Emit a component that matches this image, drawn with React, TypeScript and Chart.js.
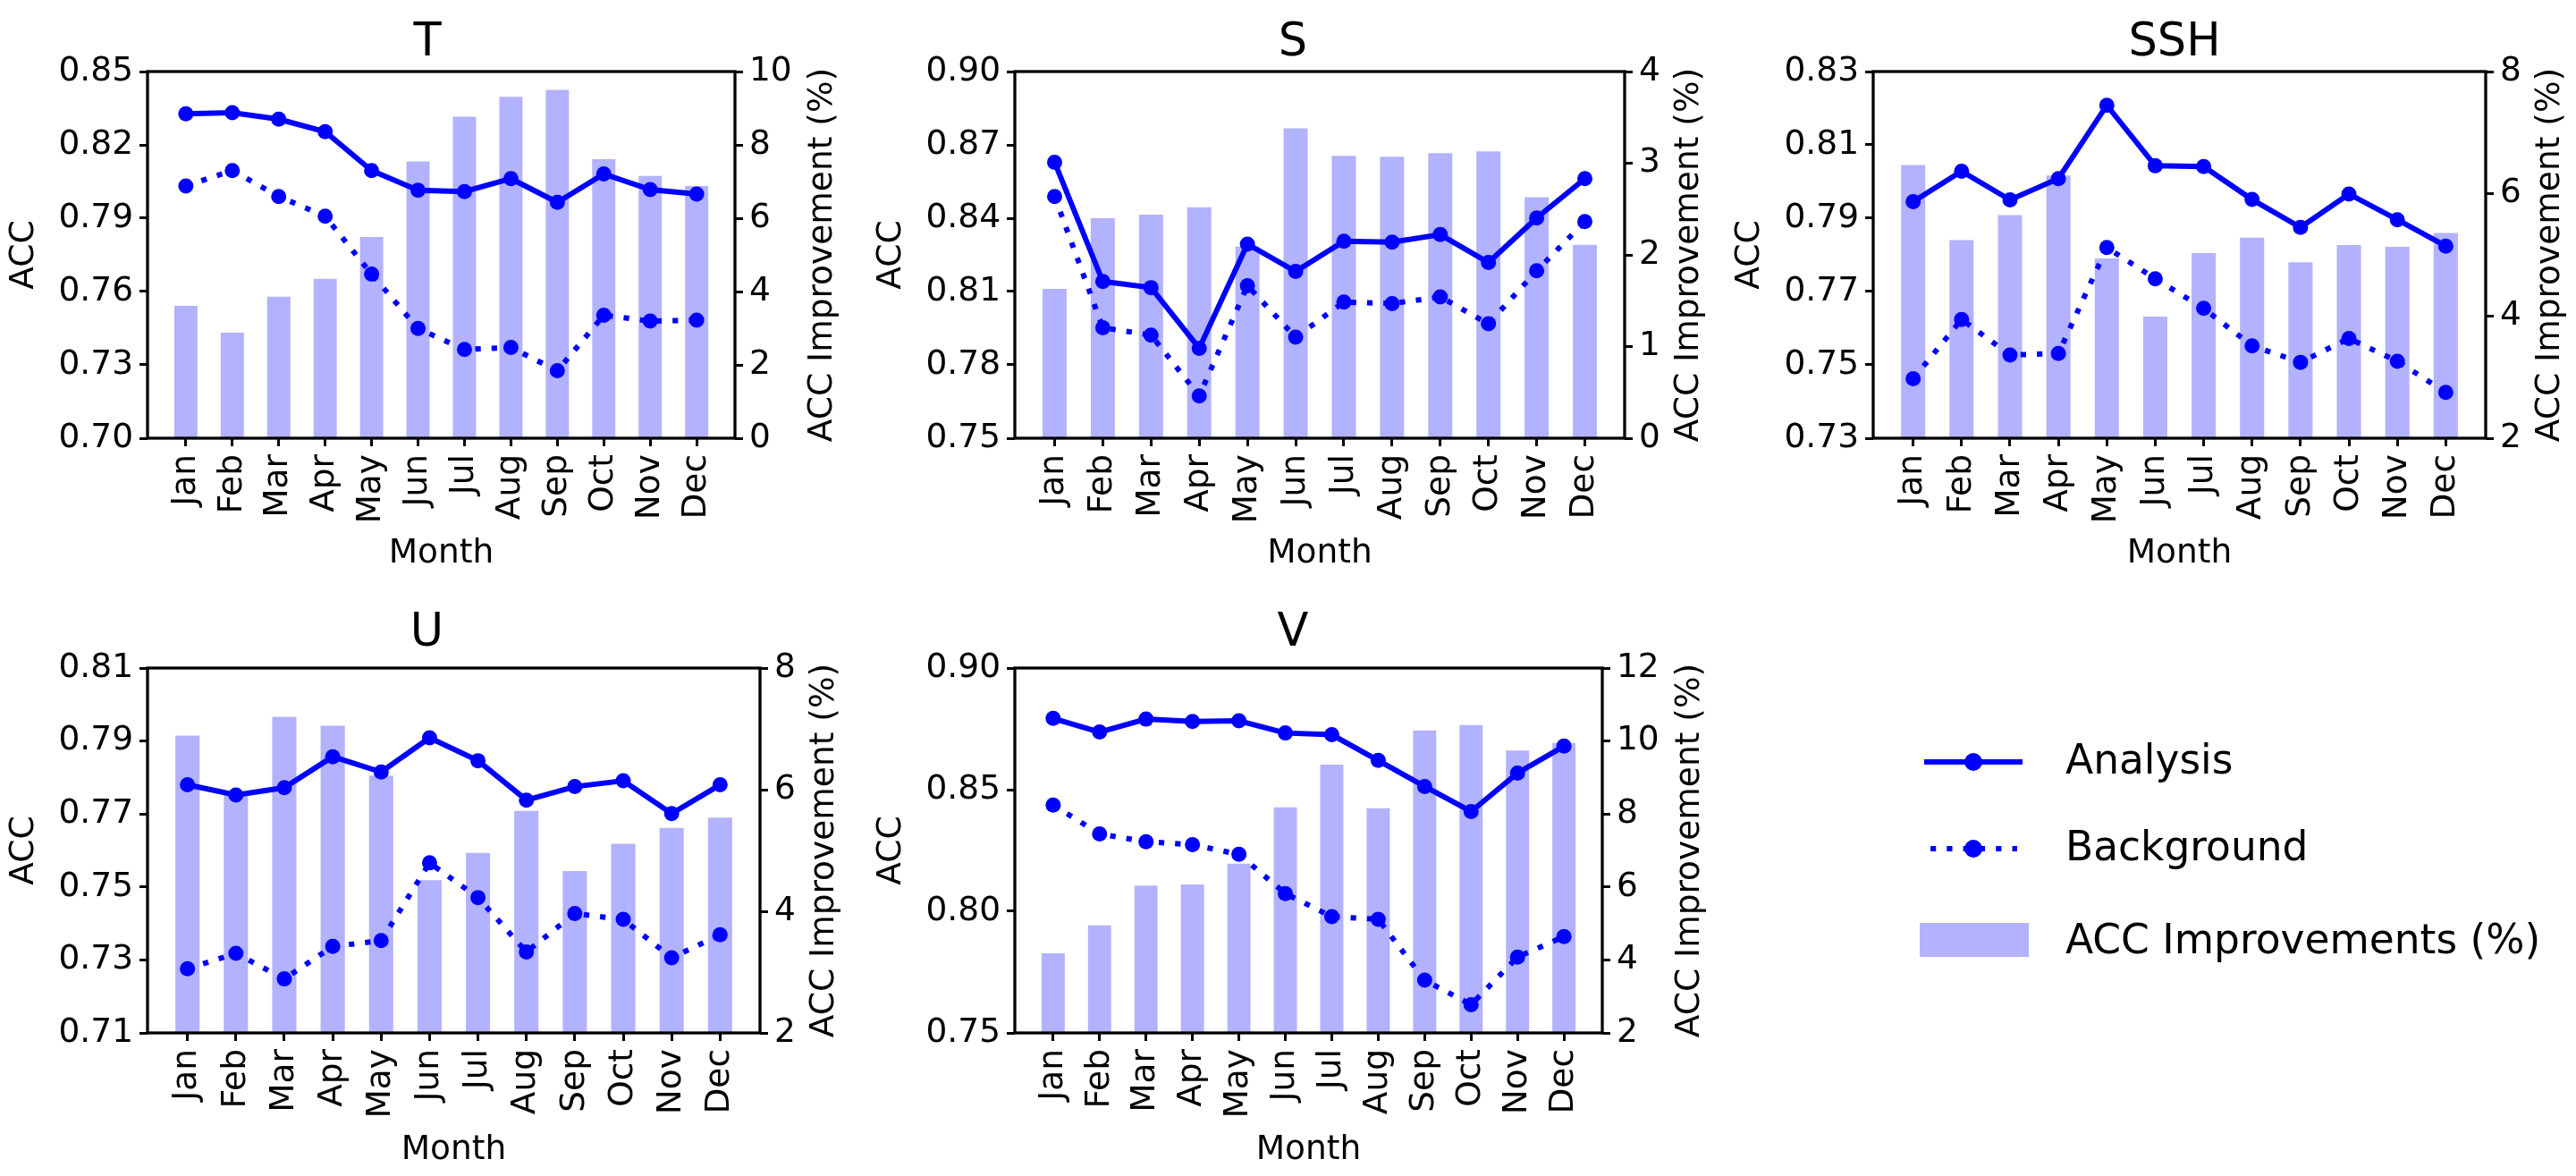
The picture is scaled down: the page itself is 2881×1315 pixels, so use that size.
import React, { useEffect, useRef } from 'react';
import { Chart, registerables } from 'chart.js';

Chart.register(...registerables);

const FONT = '"DejaVu Sans", sans-serif';
const BLUE = '#0000ff';
const BAR_COLOR = 'rgba(0, 0, 255, 0.3)';

// ---------------- data ----------------
const MONTHS = ['Jan', 'Feb', 'Mar', 'Apr', 'May', 'Jun', 'Jul', 'Aug', 'Sep', 'Oct', 'Nov', 'Dec'];

const T_ANALYSIS = [0.8327, 0.8332, 0.8305, 0.8254, 0.8095, 0.8014, 0.8009, 0.8062, 0.7965, 0.8081, 0.8017, 0.7999];
const T_BACKGROUND = [0.8032, 0.8095, 0.7989, 0.7908, 0.7671, 0.7449, 0.7363, 0.7371, 0.7276, 0.7503, 0.7479, 0.7483];
const T_IMPROVE = [3.61, 2.88, 3.86, 4.35, 5.49, 7.55, 8.77, 9.31, 9.5, 7.61, 7.15, 6.88];
const T_ACC_TICKS = [0.7, 0.73, 0.76, 0.79, 0.82, 0.85];
const T_IMP_TICKS = [0, 2, 4, 6, 8, 10];

const S_ANALYSIS = [0.8629, 0.8141, 0.8116, 0.7868, 0.8294, 0.8182, 0.8306, 0.8302, 0.8333, 0.8219, 0.8401, 0.8562];
const S_BACKGROUND = [0.8489, 0.7952, 0.7922, 0.7673, 0.8124, 0.7913, 0.8057, 0.8051, 0.8078, 0.7968, 0.8185, 0.8386];
const S_IMPROVE = [1.63, 2.4, 2.44, 2.52, 2.09, 3.38, 3.08, 3.07, 3.11, 3.13, 2.63, 2.11];
const S_ACC_TICKS = [0.75, 0.78, 0.81, 0.84, 0.87, 0.9];
const S_IMP_TICKS = [0, 1, 2, 3, 4];

const SSH_ANALYSIS = [0.7945, 0.8028, 0.795, 0.8008, 0.8208, 0.8043, 0.8041, 0.7951, 0.7875, 0.7966, 0.7896, 0.7824];
const SSH_BACKGROUND = [0.7462, 0.7624, 0.7527, 0.7531, 0.782, 0.7735, 0.7654, 0.7552, 0.7507, 0.7572, 0.751, 0.7425];
const SSH_IMPROVE = [6.47, 5.24, 5.65, 6.3, 4.94, 3.99, 5.03, 5.28, 4.88, 5.16, 5.13, 5.36];
const SSH_ACC_TICKS = [0.73, 0.75, 0.77, 0.79, 0.81, 0.83];
const SSH_IMP_TICKS = [2, 4, 6, 8];

const U_ANALYSIS = [0.778, 0.7752, 0.7772, 0.7857, 0.7815, 0.7909, 0.7846, 0.7738, 0.7775, 0.7791, 0.7701, 0.778];
const U_BACKGROUND = [0.7276, 0.7318, 0.7248, 0.7337, 0.7353, 0.7566, 0.7471, 0.7322, 0.7427, 0.7411, 0.7306, 0.7369];
const U_IMPROVE = [6.89, 5.93, 7.2, 7.05, 6.23, 4.51, 4.96, 5.65, 4.66, 5.11, 5.37, 5.54];
const U_ACC_TICKS = [0.71, 0.73, 0.75, 0.77, 0.79, 0.81];
const U_IMP_TICKS = [2, 4, 6, 8];

const V_ANALYSIS = [0.8793, 0.8737, 0.879, 0.878, 0.8783, 0.8733, 0.8726, 0.862, 0.8513, 0.841, 0.8568, 0.8679];
const V_BACKGROUND = [0.8437, 0.8318, 0.8286, 0.8274, 0.8234, 0.8073, 0.7978, 0.7967, 0.7717, 0.7616, 0.7812, 0.7896];
const V_IMPROVE = [4.18, 4.95, 6.04, 6.07, 6.64, 8.18, 9.35, 8.16, 10.29, 10.44, 9.74, 9.95];
const V_ACC_TICKS = [0.75, 0.8, 0.85, 0.9];
const V_IMP_TICKS = [2, 4, 6, 8, 10, 12];

const SERIES_LABELS = ['Analysis', 'Background', 'ACC Improvements (%)'];
const LEFT_AXIS_TITLE = 'ACC';
const RIGHT_AXIS_TITLE = 'ACC Improvement (%)';
const X_AXIS_TITLE = 'Month';

// ---------------- layout ----------------
const LEFT_W = 160;
const TOP_H = 80;
const X_MIN = -0.825;
const X_MAX = 11.825;

type Panel = {
  key: string;
  title: string;
  analysis: number[];
  background: number[];
  improve: number[];
  accTicks: number[];
  impTicks: number[];
  box: { l: number; r: number; t: number; b: number };
  titleX: number;
  titleGap: number;
  rightLabelOffset: number;
  rightW: number;
  bottomH: number;
};

const PANELS: Panel[] = [
  { key: 'T', title: 'T', analysis: T_ANALYSIS, background: T_BACKGROUND, improve: T_IMPROVE, accTicks: T_ACC_TICKS, impTicks: T_IMP_TICKS,
    box: { l: 165, r: 822, t: 80, b: 490 }, titleX: 478, titleGap: 18, rightLabelOffset: 98.5, rightW: 130, bottomH: 152 },
  { key: 'S', title: 'S', analysis: S_ANALYSIS, background: S_BACKGROUND, improve: S_IMPROVE, accTicks: S_ACC_TICKS, impTicks: S_IMP_TICKS,
    box: { l: 1135, r: 1817, t: 80, b: 490 }, titleX: 1446, titleGap: 18, rightLabelOffset: 72, rightW: 110, bottomH: 152 },
  { key: 'SSH', title: 'SSH', analysis: SSH_ANALYSIS, background: SSH_BACKGROUND, improve: SSH_IMPROVE, accTicks: SSH_ACC_TICKS, impTicks: SSH_IMP_TICKS,
    box: { l: 2095, r: 2780, t: 80, b: 490 }, titleX: 2432, titleGap: 18, rightLabelOffset: 72, rightW: 100, bottomH: 152 },
  { key: 'U', title: 'U', analysis: U_ANALYSIS, background: U_BACKGROUND, improve: U_IMPROVE, accTicks: U_ACC_TICKS, impTicks: U_IMP_TICKS,
    box: { l: 165, r: 850, t: 747, b: 1155 }, titleX: 477.5, titleGap: 25, rightLabelOffset: 72, rightW: 110, bottomH: 154 },
  { key: 'V', title: 'V', analysis: V_ANALYSIS, background: V_BACKGROUND, improve: V_IMPROVE, accTicks: V_ACC_TICKS, impTicks: V_IMP_TICKS,
    box: { l: 1135, r: 1792, t: 747, b: 1155 }, titleX: 1446, titleGap: 25, rightLabelOffset: 98.5, rightW: 130, bottomH: 154 },
];

const LEGEND_CANVAS = { left: 2100, top: 780, width: 781, height: 340 };
const LEGEND_ITEMS = [
  { y: 852, baseline: 865 },
  { y: 949, baseline: 962 },
  { y: 1051, baseline: 1066 },
];

// ---------------- plugins ----------------
const decorPlugin = {
  id: 'decor',
  afterDraw(chart: any, _args: any, opts: any) {
    const { ctx, chartArea: a } = chart;
    ctx.save();
    ctx.strokeStyle = '#000';
    ctx.lineWidth = 3.3;
    ctx.strokeRect(a.left, a.top, a.right - a.left, a.bottom - a.top);

    ctx.fillStyle = '#000';
    ctx.font = `51px ${FONT}`;
    ctx.textAlign = 'center';
    ctx.textBaseline = 'alphabetic';
    ctx.fillText(opts.title, opts.titleX, a.top - opts.titleGap);

    ctx.font = `37.5px ${FONT}`;
    ctx.translate(a.right + opts.rightLabelOffset, (a.top + a.bottom) / 2);
    ctx.rotate(-Math.PI / 2);
    ctx.textAlign = 'center';
    ctx.textBaseline = 'middle';
    ctx.fillText(opts.rightLabel, 0, 0);
    ctx.restore();
  },
};

const legendPlugin = {
  id: 'legendDraw',
  afterDraw(chart: any, _args: any, opts: any) {
    const ctx = chart.ctx;
    const ds = chart.data.datasets;
    ctx.save();
    ctx.translate(-opts.originX, -opts.originY);
    const x1 = 2152, x2 = 2262, xc = 2207;
    ds.forEach((d: any, i: number) => {
      const it = LEGEND_ITEMS[i];
      if (d.type === 'line') {
        ctx.strokeStyle = d.borderColor;
        ctx.lineWidth = d.borderWidth;
        ctx.lineCap = 'butt';
        ctx.setLineDash(d.borderDash || []);
        ctx.beginPath();
        if (d.borderDash) {
          ctx.moveTo(x1 + 7, it.y);
          ctx.lineTo(x2 - 6, it.y);
        } else {
          ctx.moveTo(x1, it.y);
          ctx.lineTo(x2, it.y);
        }
        ctx.stroke();
        ctx.setLineDash([]);
        ctx.fillStyle = d.pointBackgroundColor;
        ctx.beginPath();
        ctx.arc(xc, it.y, d.pointRadius + 1.5, 0, Math.PI * 2);
        ctx.fill();
      } else {
        ctx.fillStyle = d.backgroundColor;
        ctx.fillRect(2147, it.y - 19, 122, 38);
      }
      ctx.fillStyle = '#000';
      ctx.font = `45.5px ${FONT}`;
      ctx.textAlign = 'left';
      ctx.textBaseline = 'alphabetic';
      ctx.fillText(d.label, 2310, it.baseline);
    });
    ctx.restore();
  },
};

// ---------------- config builders ----------------
const IDX = MONTHS.map((_, i) => i);

function lineDataset(label: string, data: number[], dashed: boolean) {
  return {
    type: 'line' as const,
    label,
    data,
    yAxisID: 'y',
    xAxisID: 'x',
    borderColor: BLUE,
    backgroundColor: BLUE,
    borderWidth: 6,
    borderDash: dashed ? [6.2, 12.1] : undefined,
    borderCapStyle: 'butt' as const,
    pointRadius: 8.5,
    pointBorderWidth: 0,
    pointBackgroundColor: BLUE,
    pointBorderColor: BLUE,
    tension: 0,
    fill: false,
    order: dashed ? 1 : 0,
  };
}

function barDataset(data: number[]) {
  return {
    type: 'bar' as const,
    label: SERIES_LABELS[2],
    data,
    yAxisID: 'y1',
    xAxisID: 'x',
    backgroundColor: BAR_COLOR,
    borderWidth: 0,
    barPercentage: 0.5,
    categoryPercentage: 1,
    order: 2,
  };
}

const tickFont = { family: FONT, size: 37.5 };
const gridOpts = {
  display: true,
  drawOnChartArea: false,
  drawTicks: true,
  tickLength: 9,
  tickWidth: 3,
  tickColor: '#000',
  offset: false,
};

function buildConfig(p: Panel): any {
  const accMin = p.accTicks[0];
  const accMax = p.accTicks[p.accTicks.length - 1];
  const impMin = p.impTicks[0];
  const impMax = p.impTicks[p.impTicks.length - 1];
  const canvasLeft = p.box.l - LEFT_W;
  return {
    type: 'bar',
    data: {
      labels: IDX,
      datasets: [
        lineDataset(SERIES_LABELS[0], p.analysis, false),
        lineDataset(SERIES_LABELS[1], p.background, true),
        barDataset(p.improve),
      ],
    },
    options: {
      responsive: false,
      animation: false,
      devicePixelRatio: 1,
      layout: { padding: { top: TOP_H, left: 0, right: 0, bottom: 0 } },
      plugins: {
        legend: { display: false },
        tooltip: { enabled: false },
        decor: {
          title: p.title,
          titleX: p.titleX - canvasLeft,
          titleGap: p.titleGap,
          rightLabel: RIGHT_AXIS_TITLE,
          rightLabelOffset: p.rightLabelOffset,
        },
      },
      scales: {
        x: {
          type: 'linear',
          position: 'bottom',
          min: X_MIN,
          max: X_MAX,
          offset: false,
          bounds: 'data',
          afterBuildTicks: (s: any) => { s.ticks = IDX.map((v) => ({ value: v })); },
          afterFit: (s: any) => { s.height = p.bottomH; },
          grid: gridOpts,
          border: { display: false },
          ticks: {
            autoSkip: false,
            maxRotation: 90,
            minRotation: 90,
            padding: 9,
            font: tickFont,
            color: '#000',
            callback: (v: any) => MONTHS[Math.round(Number(v))],
          },
          title: { display: true, text: X_AXIS_TITLE, font: tickFont, color: '#000', padding: { top: 0, bottom: 0 } },
        },
        y: {
          type: 'linear',
          position: 'left',
          min: accMin,
          max: accMax,
          afterBuildTicks: (s: any) => { s.ticks = p.accTicks.map((v) => ({ value: v })); },
          afterFit: (s: any) => { s.width = LEFT_W; },
          grid: gridOpts,
          border: { display: false },
          ticks: { padding: 7, font: tickFont, color: '#000', callback: (v: any) => Number(v).toFixed(2) },
          title: { display: true, text: LEFT_AXIS_TITLE, font: tickFont, color: '#000', padding: { top: 0, bottom: 0 } },
        },
        y1: {
          type: 'linear',
          position: 'right',
          min: impMin,
          max: impMax,
          afterBuildTicks: (s: any) => { s.ticks = p.impTicks.map((v) => ({ value: v })); },
          afterFit: (s: any) => { s.width = p.rightW; },
          grid: gridOpts,
          border: { display: false },
          ticks: { padding: 7, font: tickFont, color: '#000', callback: (v: any) => String(Math.round(Number(v))) },
        },
      },
    },
    plugins: [decorPlugin],
  };
}

// ---------------- components ----------------
function PanelChart({ p }: { p: Panel }) {
  const ref = useRef<HTMLCanvasElement>(null);
  const left = p.box.l - LEFT_W;
  const top = p.box.t - TOP_H;
  const width = p.box.r - p.box.l + LEFT_W + p.rightW;
  const height = p.box.b - p.box.t + TOP_H + p.bottomH;
  useEffect(() => {
    const chart = new Chart(ref.current as HTMLCanvasElement, buildConfig(p));
    return () => chart.destroy();
  }, []);
  return (
    <canvas
      ref={ref}
      width={width}
      height={height}
      style={{ position: 'absolute', left, top, width, height }}
    />
  );
}

function LegendChart() {
  const ref = useRef<HTMLCanvasElement>(null);
  useEffect(() => {
    const chart = new Chart(ref.current as HTMLCanvasElement, {
      type: 'bar',
      data: {
        labels: [],
        datasets: [
          lineDataset(SERIES_LABELS[0], [], false),
          lineDataset(SERIES_LABELS[1], [], true),
          barDataset([]),
        ] as any,
      },
      options: {
        responsive: false,
        animation: false,
        devicePixelRatio: 1,
        plugins: {
          legend: { display: false },
          tooltip: { enabled: false },
          legendDraw: { originX: LEGEND_CANVAS.left, originY: LEGEND_CANVAS.top },
        } as any,
        scales: { x: { display: false }, y: { display: false }, y1: { display: false } } as any,
      },
      plugins: [legendPlugin as any],
    });
    return () => chart.destroy();
  }, []);
  return (
    <canvas
      ref={ref}
      width={LEGEND_CANVAS.width}
      height={LEGEND_CANVAS.height}
      style={{
        position: 'absolute',
        left: LEGEND_CANVAS.left,
        top: LEGEND_CANVAS.top,
        width: LEGEND_CANVAS.width,
        height: LEGEND_CANVAS.height,
      }}
    />
  );
}

export default function App() {
  return (
    <div
      style={{
        position: 'absolute',
        left: 0,
        top: 0,
        width: 2881,
        height: 1315,
        overflow: 'hidden',
        background: '#fff',
      }}
    >
      {PANELS.map((p) => (
        <PanelChart key={p.key} p={p} />
      ))}
      <LegendChart />
    </div>
  );
}
